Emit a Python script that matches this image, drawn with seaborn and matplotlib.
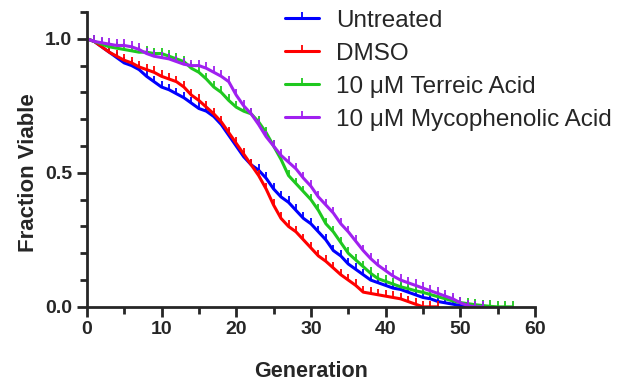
import matplotlib
matplotlib.use("Agg")
import matplotlib.pyplot as plt
from matplotlib.path import Path
from matplotlib.ticker import MultipleLocator
import seaborn as sns

# --- data (fraction viable per generation) ---
series_names = ["Untreated", "DMSO", "10 μM Terreic Acid", "10 μM Mycophenolic Acid"]
series_colors = ["#0000ff", "#ff0000", "#1fc81f", "#a020f0"]

untreated = [1.00, 0.99, 0.97, 0.95, 0.93, 0.91, 0.90, 0.885, 0.86, 0.84,
             0.82, 0.81, 0.795, 0.78, 0.76, 0.74, 0.73, 0.71, 0.68, 0.64,
             0.60, 0.56, 0.53, 0.51, 0.48, 0.44, 0.41, 0.39, 0.36, 0.33,
             0.31, 0.28, 0.25, 0.21, 0.19, 0.16, 0.14, 0.12, 0.10, 0.09,
             0.08, 0.07, 0.065, 0.055, 0.045, 0.035, 0.03, 0.02, 0.015, 0.01,
             0.005, 0.0, 0.0]
dmso = [1.00, 0.99, 0.97, 0.95, 0.935, 0.92, 0.91, 0.895, 0.885, 0.875,
        0.86, 0.85, 0.84, 0.82, 0.79, 0.77, 0.745, 0.72, 0.69, 0.65,
        0.61, 0.57, 0.53, 0.49, 0.44, 0.38, 0.33, 0.30, 0.28, 0.25,
        0.22, 0.19, 0.17, 0.145, 0.12, 0.10, 0.08, 0.055, 0.05, 0.045,
        0.04, 0.035, 0.03, 0.02, 0.01, 0.0, 0.0, 0.0]
terreic = [1.00, 0.99, 0.98, 0.97, 0.965, 0.96, 0.955, 0.95, 0.95, 0.945,
           0.945, 0.935, 0.925, 0.915, 0.89, 0.875, 0.85, 0.82, 0.80, 0.77,
           0.745, 0.73, 0.72, 0.69, 0.65, 0.60, 0.55, 0.49, 0.46, 0.43,
           0.40, 0.36, 0.31, 0.28, 0.24, 0.20, 0.175, 0.15, 0.125, 0.105,
           0.095, 0.085, 0.075, 0.068, 0.06, 0.054, 0.046, 0.038, 0.03, 0.022,
           0.016, 0.012, 0.008, 0.005, 0.002, 0.0, 0.0, 0.0]
mycophenolic = [1.00, 0.99, 0.985, 0.98, 0.975, 0.975, 0.97, 0.96, 0.945, 0.935,
                0.93, 0.925, 0.915, 0.905, 0.90, 0.90, 0.89, 0.875, 0.86, 0.84,
                0.79, 0.75, 0.72, 0.68, 0.635, 0.60, 0.565, 0.54, 0.515, 0.48,
                0.45, 0.41, 0.38, 0.35, 0.31, 0.28, 0.245, 0.21, 0.18, 0.155,
                0.135, 0.115, 0.10, 0.09, 0.08, 0.07, 0.06, 0.05, 0.04, 0.03,
                0.015, 0.005, 0.0, 0.0]
series_values = [untreated, dmso, terreic, mycophenolic]

x_ticks = [0, 10, 20, 30, 40, 50, 60]
y_ticks = [0.0, 0.5, 1.0]

sns.set_style("ticks")
plt.rcParams['font.family'] = ['Liberation Sans', 'DejaVu Sans']

# upward tick used as the censor mark
tick = Path([(0, 0), (0, 1)], [Path.MOVETO, Path.LINETO])

fig = plt.figure(figsize=(6.2, 3.86), dpi=100)
ax = fig.add_axes([0.140, 0.205, 0.723, 0.764])

for name, color, vals in zip(series_names, series_colors, series_values):
    gens = list(range(len(vals)))
    sns.lineplot(x=gens, y=vals, ax=ax, color=color, label=name,
                 linewidth=2.2, marker=tick, markersize=9,
                 markeredgecolor=color, markeredgewidth=1.3)

ax.set_xlim(0, 60)
ax.set_ylim(0, 1.1)
ax.set_xticks(x_ticks)
ax.set_yticks(y_ticks)
ax.set_yticklabels([f"{v:.1f}" for v in y_ticks])
ax.xaxis.set_minor_locator(MultipleLocator(5))
ax.yaxis.set_minor_locator(MultipleLocator(0.1))
ax.tick_params(which='major', length=7, width=2, labelsize=14)
ax.tick_params(which='minor', length=5, width=2)
for lbl in ax.get_xticklabels() + ax.get_yticklabels():
    lbl.set_fontweight('bold')
for side in ['left', 'bottom']:
    ax.spines[side].set_linewidth(2)
sns.despine(ax=ax)

ax.set_xlabel("Generation", fontsize=15.5, fontweight='bold', labelpad=16)
ax.set_ylabel("Fraction Viable", fontsize=16, fontweight='bold')
ax.yaxis.set_label_coords(-0.106, 0.5 / 1.1)

ax.legend(loc='upper left', bbox_to_anchor=(0.46, 0.975), bbox_transform=fig.transFigure,
          frameon=False, fontsize=17.5, handlelength=1.4, handletextpad=0.7,
          labelspacing=0.45, borderaxespad=0, borderpad=0)

fig.savefig("out.png", dpi=100)
